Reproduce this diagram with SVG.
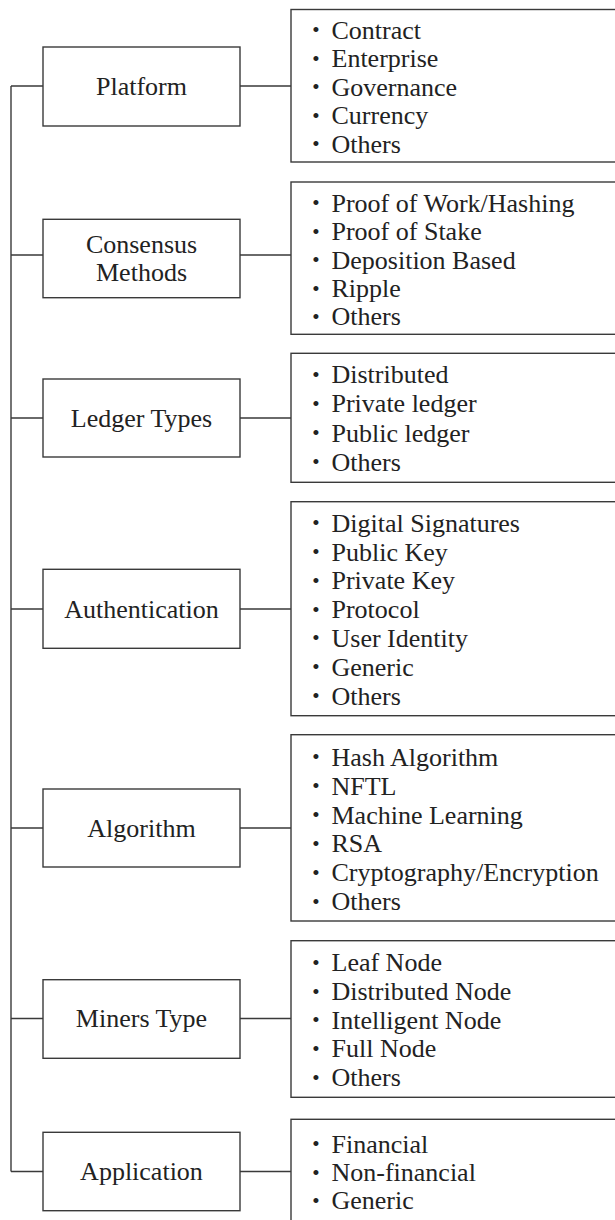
<svg xmlns="http://www.w3.org/2000/svg" width="615" height="1220" viewBox="0 0 615 1220">
<style>
.box{fill:#fff;stroke:#3a3a3a;stroke-width:1.4}
.ln{fill:none;stroke:#3a3a3a;stroke-width:1.4}
.t{font-family:"Liberation Serif","Times New Roman",serif;font-size:26px;fill:#222}
.c{text-anchor:middle}
.b{text-anchor:middle;font-size:21px}
.b text{transform:translateY(-1.5px)}
</style>
<rect width="615" height="1220" fill="#fff"/>
<g id="connectors">
<path class="ln" d="M11,86 V1171.5"/>
<path class="ln" d="M11,86 H43 M240,86 H291"/>
<path class="ln" d="M11,255 H43 M240,255 H291"/>
<path class="ln" d="M11,418 H43 M240,418 H291"/>
<path class="ln" d="M11,609 H43 M240,609 H291"/>
<path class="ln" d="M11,828 H43 M240,828 H291"/>
<path class="ln" d="M11,1018.5 H43 M240,1018.5 H291"/>
<path class="ln" d="M11,1171.5 H43 M240,1171.5 H291"/>
</g>
<g id="platform">
<rect class="box" x="43" y="47" width="197" height="79"/>
<text class="t c" x="141.5" y="95">Platform</text>
</g>
<g id="platform-list">
<rect class="box" x="291" y="9.5" width="340" height="152.5"/>
<g class="t b"><text x="316" y="38.5">•</text><text x="316" y="67">•</text><text x="316" y="95.5">•</text><text x="316" y="124">•</text><text x="316" y="152.5">•</text></g>
<g class="t"><text x="331.5" y="38.5">Contract</text><text x="331.5" y="67">Enterprise</text><text x="331.5" y="95.5">Governance</text><text x="331.5" y="124">Currency</text><text x="331.5" y="152.5">Others</text></g>
</g>
<g id="consensus">
<rect class="box" x="43" y="219.3" width="197" height="78.4"/>
<text class="t c" x="141.5" y="252.5">Consensus</text>
<text class="t c" x="141.5" y="281">Methods</text>
</g>
<g id="consensus-list">
<rect class="box" x="291" y="182" width="340" height="152.3"/>
<g class="t b"><text x="316" y="211.5">•</text><text x="316" y="240">•</text><text x="316" y="268.5">•</text><text x="316" y="297">•</text><text x="316" y="325">•</text></g>
<g class="t"><text x="331.5" y="211.5">Proof of Work/Hashing</text><text x="331.5" y="240">Proof of Stake</text><text x="331.5" y="268.5">Deposition Based</text><text x="331.5" y="297">Ripple</text><text x="331.5" y="325">Others</text></g>
</g>
<g id="ledger">
<rect class="box" x="43" y="379" width="197" height="78"/>
<text class="t c" x="141.5" y="426.5">Ledger Types</text>
</g>
<g id="ledger-list">
<rect class="box" x="291" y="353.3" width="340" height="129"/>
<g class="t b"><text x="316" y="383.3">•</text><text x="316" y="412.3">•</text><text x="316" y="441.5">•</text><text x="316" y="470.7">•</text></g>
<g class="t"><text x="331.5" y="383.3">Distributed</text><text x="331.5" y="412.3">Private ledger</text><text x="331.5" y="441.5">Public ledger</text><text x="331.5" y="470.7">Others</text></g>
</g>
<g id="authentication">
<rect class="box" x="43" y="569.3" width="197" height="79"/>
<text class="t c" x="141.5" y="617.5">Authentication</text>
</g>
<g id="authentication-list">
<rect class="box" x="291" y="501.7" width="340" height="214"/>
<g class="t b"><text x="316" y="531.7">•</text><text x="316" y="560.5">•</text><text x="316" y="589.3">•</text><text x="316" y="618.1">•</text><text x="316" y="646.9">•</text><text x="316" y="675.7">•</text><text x="316" y="704.5">•</text></g>
<g class="t"><text x="331.5" y="531.7">Digital Signatures</text><text x="331.5" y="560.5">Public Key</text><text x="331.5" y="589.3">Private Key</text><text x="331.5" y="618.1">Protocol</text><text x="331.5" y="646.9">User Identity</text><text x="331.5" y="675.7">Generic</text><text x="331.5" y="704.5">Others</text></g>
</g>
<g id="algorithm">
<rect class="box" x="43" y="789" width="197" height="78"/>
<text class="t c" x="141.5" y="836.5">Algorithm</text>
</g>
<g id="algorithm-list">
<rect class="box" x="291" y="734.7" width="340" height="186.3"/>
<g class="t b"><text x="316" y="765.7">•</text><text x="316" y="794.6">•</text><text x="316" y="823.5">•</text><text x="316" y="852.4">•</text><text x="316" y="881.3">•</text><text x="316" y="910.2">•</text></g>
<g class="t"><text x="331.5" y="765.7">Hash Algorithm</text><text x="331.5" y="794.6">NFTL</text><text x="331.5" y="823.5">Machine Learning</text><text x="331.5" y="852.4">RSA</text><text x="331.5" y="881.3">Cryptography/Encryption</text><text x="331.5" y="910.2">Others</text></g>
</g>
<g id="miners">
<rect class="box" x="43" y="979.7" width="197" height="78.6"/>
<text class="t c" x="141.5" y="1027">Miners Type</text>
</g>
<g id="miners-list">
<rect class="box" x="291" y="940.7" width="340" height="156.6"/>
<g class="t b"><text x="316" y="971">•</text><text x="316" y="1000">•</text><text x="316" y="1028.5">•</text><text x="316" y="1057">•</text><text x="316" y="1086">•</text></g>
<g class="t"><text x="331.5" y="971">Leaf Node</text><text x="331.5" y="1000">Distributed Node</text><text x="331.5" y="1028.5">Intelligent Node</text><text x="331.5" y="1057">Full Node</text><text x="331.5" y="1086">Others</text></g>
</g>
<g id="application">
<rect class="box" x="43" y="1132.3" width="197" height="78.4"/>
<text class="t c" x="141.5" y="1180">Application</text>
</g>
<g id="application-list">
<rect class="box" x="291" y="1119.3" width="340" height="120"/>
<g class="t b"><text x="316" y="1152.7">•</text><text x="316" y="1181">•</text><text x="316" y="1209.3">•</text></g>
<g class="t"><text x="331.5" y="1152.7">Financial</text><text x="331.5" y="1181">Non-financial</text><text x="331.5" y="1209.3">Generic</text></g>
</g>
</svg>
